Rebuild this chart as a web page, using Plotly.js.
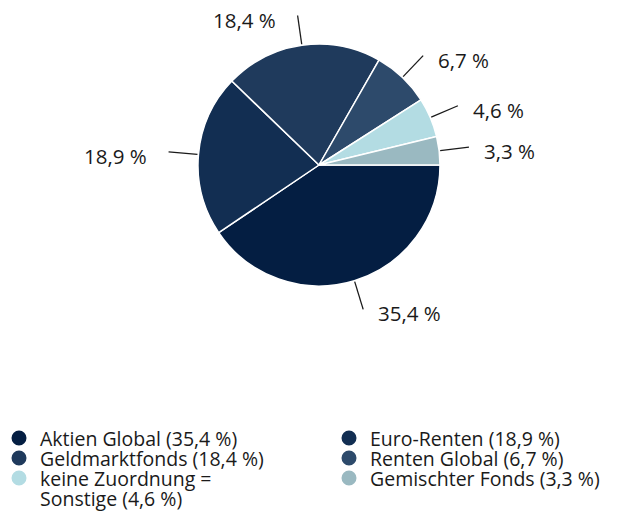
<!DOCTYPE html>
<html>
<head>
<meta charset="utf-8">
<script src="https://cdn.plot.ly/plotly-3.0.1.min.js"></script>
<style>html,body{margin:0;padding:0;background:#fff;}#chart{width:621px;height:512px;}</style>
</head>
<body>
<div id="chart"></div>
<script>
// ---- data ----
const categories = ['Aktien Global', 'Euro-Renten', 'Geldmarktfonds', 'Renten Global', 'keine Zuordnung = Sonstige', 'Gemischter Fonds'];
const values = [35.4, 18.9, 18.4, 6.7, 4.6, 3.3];
const colors = ['#041e42', '#122e52', '#1f3a5c', '#2d4a6b', '#b3dce3', '#9ab9c1'];
// legend text lines per category (the 5th entry wraps onto two lines)
const legendLines = [
  ['Aktien Global (35,4 %)'],
  ['Euro-Renten (18,9 %)'],
  ['Geldmarktfonds (18,4 %)'],
  ['Renten Global (6,7 %)'],
  ['keine Zuordnung =', 'Sonstige (4,6 %)'],
  ['Gemischter Fonds (3,3 %)']
];

// ---- layout constants ----
const W = 621, H = 512;
const CX = 319, CY = 165, R = 121;
const FONT = '"Open Sans", sans-serif';
const TXT = '#1a1a1a';

const fmt = v => v.toFixed(1).replace('.', ',') + ' %';

const pie = {
  type: 'pie',
  labels: categories,
  values: values,
  sort: false,
  direction: 'clockwise',
  rotation: 90,
  textinfo: 'none',
  hoverinfo: 'label+percent',
  showlegend: false,
  marker: {colors: colors, line: {color: '#ffffff', width: 1.5}},
  domain: {x: [(CX - R) / W, (CX + R) / W], y: [1 - (CY + R) / H, 1 - (CY - R) / H]}
};

const px = x => x / W, py = y => 1 - y / H;

// leader lines + slice labels, positioned from the data
const total = values.reduce((a, b) => a + b, 0);
const shapes = [], annotations = [];
let cum = 0;
values.forEach((v, i) => {
  const mid = (cum + v / 2) / total * 2 * Math.PI; // clockwise from 3 o'clock
  cum += v;
  const c = Math.cos(mid), s = Math.sin(mid);
  const x0 = CX + (R + 1) * c, y0 = CY + (R + 1) * s;
  const x1 = CX + (R + 30) * c, y1 = CY + (R + 30) * s;
  shapes.push({type: 'line', xref: 'paper', yref: 'paper',
    x0: px(x0), y0: py(y0), x1: px(x1), y1: py(y1),
    line: {color: '#1a1a1a', width: 1.3}});
  const right = c >= 0;
  annotations.push({xref: 'paper', yref: 'paper',
    x: px(x1 + (right ? 14 : -21)), y: py(y1 + 4),
    xanchor: right ? 'left' : 'right', yanchor: 'middle',
    text: fmt(v), showarrow: false, borderpad: 0,
    font: {family: FONT, size: 20.5, color: TXT}});
});

// legend: two columns, circle symbols; each column is one text block
const LEG_X = [19, 349], LEG_Y0 = 438, ROW = 20, SYM_R = 7.5, TXT_DX = 20;
const LEG_FS = 19.5;
const colLines = [[], []];
legendLines.forEach((lines, i) => {
  const col = i % 2;
  const cx = LEG_X[col], cy = LEG_Y0 + colLines[col].length * ROW;
  shapes.push({type: 'circle', xref: 'paper', yref: 'paper',
    x0: px(cx - SYM_R), x1: px(cx + SYM_R), y0: py(cy + SYM_R), y1: py(cy - SYM_R),
    fillcolor: colors[i], line: {width: 0}});
  lines.forEach(t => colLines[col].push(t));
});
colLines.forEach((lines, col) => {
  const yMid = LEG_Y0 + (lines.length - 1) * ROW / 2;
  annotations.push({xref: 'paper', yref: 'paper',
    x: px(LEG_X[col] + TXT_DX), y: py(yMid),
    xanchor: 'left', yanchor: 'middle', align: 'left', showarrow: false, borderpad: 0,
    text: lines.map(t => '<span style="font-size:' + LEG_FS + 'px">' + t + '</span>').join('<br>'),
    font: {family: FONT, size: ROW / 1.3, color: TXT}});
});

const layout = {
  width: W, height: H,
  margin: {l: 0, r: 0, t: 0, b: 0},
  paper_bgcolor: '#ffffff',
  showlegend: false,
  shapes: shapes,
  annotations: annotations
};

Plotly.newPlot('chart', [pie], layout, {displayModeBar: false, staticPlot: true});
</script>
</body>
</html>
